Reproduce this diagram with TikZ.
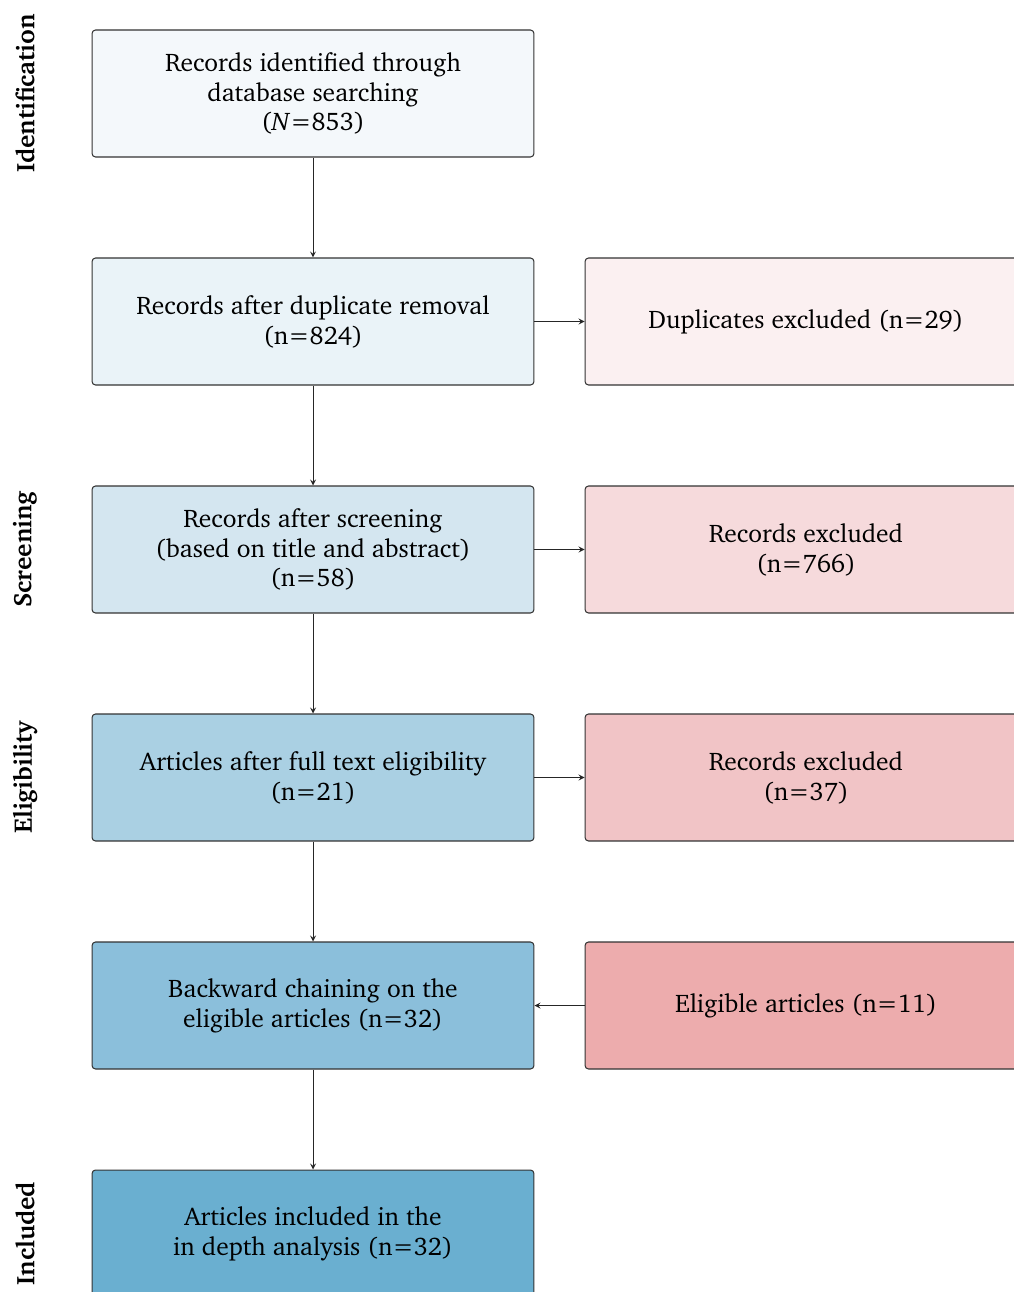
\documentclass[tikz,border=0pt]{standalone}
\usepackage[T1]{fontenc}
\usepackage{charter}
\definecolor{blue1}{RGB}{244,248,251}
\definecolor{blue2}{RGB}{234,243,248}
\definecolor{blue3}{RGB}{212,230,240}
\definecolor{blue4}{RGB}{170,208,227}
\definecolor{blue5}{RGB}{139,191,219}
\definecolor{blue6}{RGB}{106,175,208}
\definecolor{red2}{RGB}{251,240,241}
\definecolor{red3}{RGB}{246,218,220}
\definecolor{red4}{RGB}{241,196,198}
\definecolor{red5}{RGB}{237,172,173}
\begin{document}
\begin{tikzpicture}[x=0.02cm, y=-0.02cm,
	box/.style={draw=black!80, rounded corners=2pt, line width=0.6pt, minimum width=8.84cm, minimum height=2.54cm, inner sep=0pt, align=center, font=\fontsize{14.5}{17}\selectfont},
	phase/.style={rotate=90, inner sep=0pt, font=\fontsize{14.5}{17}\selectfont\bfseries},
	link/.style={-stealth, line width=0.5pt, black!85}]
		\useasboundingbox (0,0) rectangle (1014,1292);
		\clip (0,0) rectangle (1014,1292);

		\node[phase] (P1) at (25,93.5) {Identification};
		\node[phase] (P2) at (25,549.5) {Screening};
		\node[phase] (P3) at (25,777.5) {Eligibility};
		\node[phase] (P4) at (25,1233.5) {Included};

		\node[box, fill=blue1] (A) at (313,93.5) {Records identified through\\database searching\\(\textit{N}=853)};
		\node[box, fill=blue2] (B) at (313,321.5) {Records after duplicate removal\\(n=824)};
		\node[box, fill=blue3] (C) at (313,549.5) {Records after screening\\(based on title and abstract)\\(n=58)};
		\node[box, fill=blue4] (D) at (313,777.5) {Articles after full text eligibility\\(n=21)};
		\node[box, fill=blue5] (E) at (313,1005.5) {Backward chaining on the\\eligible articles (n=32)};
		\node[box, fill=blue6] (F) at (313,1233.5) {Articles included in the\\in depth analysis (n=32)};

		\node[box, fill=red2] (B2) at (806,321.5) {Duplicates excluded (n=29)};
		\node[box, fill=red3] (C2) at (806,549.5) {Records excluded\\(n=766)};
		\node[box, fill=red4] (D2) at (806,777.5) {Records excluded\\(n=37)};
		\node[box, fill=red5] (E2) at (806,1005.5) {Eligible articles (n=11)};

		\draw[link] (A) -- (B);
		\draw[link] (B) -- (C);
		\draw[link] (C) -- (D);
		\draw[link] (D) -- (E);
		\draw[link] (E) -- (F);
		\draw[link] (B) -- (B2);
		\draw[link] (C) -- (C2);
		\draw[link] (D) -- (D2);
		\draw[link] (E2) -- (E);
	\end{tikzpicture}
\end{document}
